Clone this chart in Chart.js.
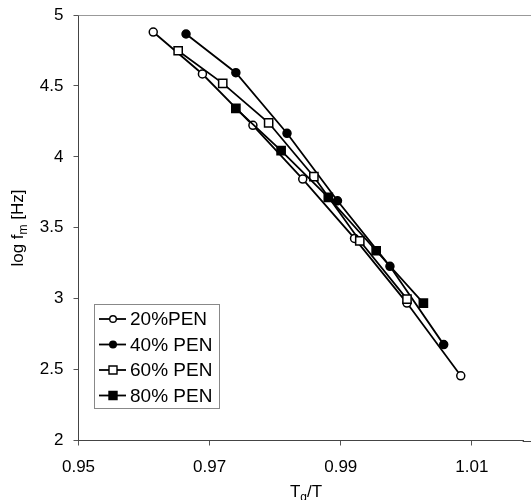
<!DOCTYPE html>
<html>
<head>
<meta charset="utf-8">
<script src="https://cdn.jsdelivr.net/npm/chart.js@4/dist/chart.umd.min.js"></script>
<style>
  html, body { margin:0; padding:0; background:#fff; }
  #wrap { width:531px; height:500px; }
</style>
</head>
<body>
<div id="wrap"><canvas id="chart" width="531" height="500"></canvas></div>
<script>
// data
const seriesNames = ['20%PEN', '40% PEN', '60% PEN', '80% PEN'];
const x20 = [0.9614, 0.9689, 0.9766, 0.9842, 0.9921, 1.0001, 1.0083];
const y20 = [4.880, 4.584, 4.222, 3.843, 3.425, 2.969, 2.456];
const x40 = [0.9664, 0.9740, 0.9818, 0.9895, 0.9975, 1.0057];
const y40 = [4.866, 4.593, 4.166, 3.690, 3.228, 2.676];
const x60 = [0.9652, 0.9720, 0.9790, 0.9859, 0.9929, 1.0001];
const y60 = [4.748, 4.518, 4.240, 3.860, 3.408, 2.997];
const x80 = [0.9740, 0.9809, 0.9881, 0.9954, 1.0026];
const y80 = [4.342, 4.044, 3.714, 3.338, 2.969];
const xTicks = [0.95, 0.97, 0.99, 1.01];
const yTicks = [2, 2.5, 3, 3.5, 4, 4.5, 5];

const FONT = "'Liberation Sans', Arial, sans-serif";
const pts = (xs, ys) => xs.map((x, i) => ({ x: x, y: ys[i] }));

const styles = [
  { pointStyle:'circle', bg:'#fff', r:4 },
  { pointStyle:'circle', bg:'#000', r:4 },
  { pointStyle:'rect',   bg:'#fff', r:5.8 },
  { pointStyle:'rect',   bg:'#000', r:5.8 }
];
const allData = [pts(x20,y20), pts(x40,y40), pts(x60,y60), pts(x80,y80)];

const datasets = allData.map((d, i) => ({
  label: seriesNames[i],
  data: d,
  showLine: true,
  borderColor: '#000',
  borderWidth: 1.8,
  pointStyle: styles[i].pointStyle,
  pointRadius: styles[i].r,
  pointBackgroundColor: styles[i].bg,
  pointBorderColor: '#000',
  pointBorderWidth: 1.5,
  order: 3 - i
}));

// axis titles + frame lines running off the right edge + legend box
const decor = {
  id: 'decor',
  afterDraw(chart) {
    const ctx = chart.ctx, a = chart.chartArea;
    ctx.save();
    ctx.strokeStyle = '#999'; ctx.lineWidth = 1;
    ctx.beginPath(); ctx.moveTo(a.left, a.top + 0.5); ctx.lineTo(chart.width, a.top + 0.5); ctx.stroke();
    ctx.strokeStyle = '#444';
    ctx.beginPath(); ctx.moveTo(a.right - 1, Math.round(a.bottom) + 0.5); ctx.lineTo(chart.width, Math.round(a.bottom) + 0.5); ctx.stroke();

    ctx.fillStyle = '#000';
    ctx.textBaseline = 'alphabetic';
    // x title  T_g/T
    const big = '17px ' + FONT, sub = '12px ' + FONT;
    ctx.font = big; const wT = ctx.measureText('T').width, wS = ctx.measureText('/T').width;
    ctx.font = sub; const wg = ctx.measureText('g').width;
    let tx = 306 - (wT + wg + wS) / 2, ty = 497;
    ctx.font = big; ctx.textAlign = 'left'; ctx.fillText('T', tx, ty);
    ctx.font = sub; ctx.fillText('g', tx + wT, ty + 4);
    ctx.font = big; ctx.fillText('/T', tx + wT + wg, ty);

    // y title  log f_m [Hz]
    ctx.translate(23, 228); ctx.rotate(-Math.PI / 2);
    ctx.font = big; const w1 = ctx.measureText('log f').width, w3 = ctx.measureText(' [Hz]').width;
    ctx.font = sub; const w2 = ctx.measureText('m').width;
    let sx = -(w1 + w2 + w3) / 2;
    ctx.font = big; ctx.fillText('log f', sx, 0);
    ctx.font = sub; ctx.fillText('m', sx + w1, 4);
    ctx.font = big; ctx.fillText(' [Hz]', sx + w1 + w2, 0);
    ctx.restore();

    // legend
    ctx.save();
    ctx.fillStyle = '#fff'; ctx.fillRect(94, 304, 125, 104);
    ctx.strokeStyle = '#888'; ctx.lineWidth = 1; ctx.strokeRect(94.5, 304.5, 125, 104);
    const rows = [319, 344.5, 370, 395.5];
    chart.data.datasets.forEach((ds, i) => {
      const y = rows[i];
      ctx.strokeStyle = '#000'; ctx.lineWidth = 1.8;
      ctx.beginPath(); ctx.moveTo(99, y); ctx.lineTo(126, y); ctx.stroke();
      ctx.fillStyle = ds.pointBackgroundColor; ctx.lineWidth = 1.4;
      ctx.beginPath();
      if (ds.pointStyle === 'circle') ctx.arc(113, y, 3.3, 0, Math.PI * 2);
      else ctx.rect(113 - 4, y - 4, 8, 8);
      ctx.fill(); ctx.stroke();
      ctx.fillStyle = '#000'; ctx.font = '19px ' + FONT;
      ctx.textAlign = 'left'; ctx.textBaseline = 'middle';
      ctx.fillText(ds.label, 130, y + 1);
    });
    ctx.restore();
  }
};

new Chart(document.getElementById('chart'), {
  type: 'scatter',
  data: { datasets: datasets },
  plugins: [decor],
  options: {
    responsive: false,
    devicePixelRatio: 1,
    animation: false,
    layout: { padding: { top: 15, right: 0, bottom: 0, left: 0 } },
    plugins: { legend: { display: false }, tooltip: { enabled: false } },
    scales: {
      x: {
        // chart area stops ~8px short of the canvas edge, so max is trimmed to keep the scale
        type: 'linear', min: 0.95, max: 1.0179,
        afterBuildTicks: s => { s.ticks = xTicks.map(v => ({ value: v })); },
        afterFit: s => { s.height = 59.5; s.paddingRight = 0; s.paddingLeft = 0; },
        grid: { drawOnChartArea: false, drawTicks: true, tickLength: 5, color: '#555' },
        border: { display: true, color: '#444', width: 1 },
        ticks: { color: '#000', font: { family: FONT, size: 17 }, padding: 12, maxRotation: 0,
                 callback: v => v.toFixed(2) }
      },
      y: {
        type: 'linear', min: 2, max: 5,
        afterBuildTicks: s => { s.ticks = yTicks.map(v => ({ value: v })); },
        afterFit: s => { s.width = 78.5; s.paddingTop = 0; s.paddingBottom = 0; },
        grid: { drawOnChartArea: false, drawTicks: true, tickLength: 5, color: '#555' },
        border: { display: true, color: '#444', width: 1 },
        ticks: { color: '#000', font: { family: FONT, size: 17 }, padding: 10,
                 callback: v => String(v) }
      }
    }
  }
});
</script>
</body>
</html>
